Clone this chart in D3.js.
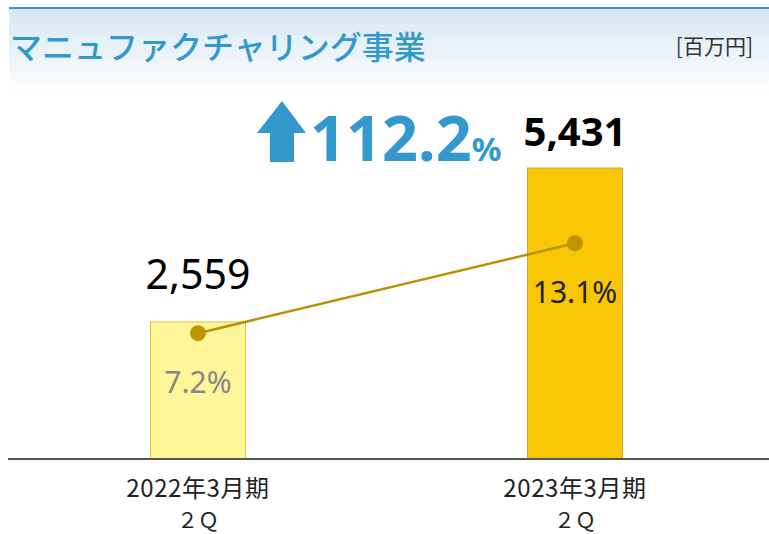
<!DOCTYPE html>
<html><head><meta charset="utf-8">
<script src="https://cdn.jsdelivr.net/npm/d3@7"></script>
<style>html,body{margin:0;padding:0;background:#fff;overflow:hidden}</style>
</head><body>
<svg id="chart" width="769" height="534"></svg>
<script>
const categories = ["2022年3月期", "2023年3月期"];
const categorySub = ["２Ｑ", "２Ｑ"];
const sales = [2559, 5431];
const salesLabels = ["2,559", "5,431"];
const margins = [7.2, 13.1];
const marginLabels = ["7.2%", "13.1%"];
const growthValue = "112.2";
const title = "マニュファクチャリング事業";
const unit = "[百万円]";

const svg = d3.select("#chart");
const defs = svg.append("defs");
const grad = defs.append("linearGradient").attr("id","hdr").attr("x1",0).attr("y1",0).attr("x2",0).attr("y2",1);
grad.append("stop").attr("offset","0%").attr("stop-color","#d6e7f2");
grad.append("stop").attr("offset","100%").attr("stop-color","#ffffff");

svg.append("rect").attr("x",9).attr("y",9).attr("width",760).attr("height",86).attr("fill","url(#hdr)");
svg.append("rect").attr("x",9).attr("y",7).attr("width",760).attr("height",2).attr("fill","#3399cc");

const cjk = "'Noto Sans CJK JP','Noto Sans',sans-serif";
const num = "'Noto Sans','DejaVu Sans',sans-serif";

svg.append("text").attr("x",10).attr("y",45).attr("dominant-baseline","central")
  .attr("font-family",cjk).attr("font-size",32).attr("font-weight",500).attr("fill","#3399cc").text(title);
svg.append("text").attr("x",753).attr("y",45).attr("dominant-baseline","central").attr("text-anchor","end")
  .attr("font-family",cjk).attr("font-size",21).attr("fill","#333").text(unit);

const x = d3.scalePoint().domain(categories).range([198, 575]);
const barW = 96;
const y = d3.scaleLinear().domain([0, 6000]).range([459, 459 - 6000*0.05358]);
const y2 = d3.scaleLinear().domain([0, 20]).range([443, 443 - 20*15.25]);

const fills = ["#fff599", "#f9c605"];
const strokes = ["#e3c447", "#c8a838"];

svg.selectAll("rect.bar").data(sales).join("rect").attr("class","bar")
  .attr("x",(d,i)=>x(categories[i]) - barW/2 + 0.5)
  .attr("y",d=>y(d))
  .attr("width",barW - 1)
  .attr("height",d=>y(0)-y(d))
  .attr("fill",(d,i)=>fills[i]).attr("stroke",(d,i)=>strokes[i]).attr("stroke-width",1);

// axis baseline
const axis = d3.axisBottom(x).tickSize(0).tickFormat("");
const ag = svg.append("g").attr("transform","translate(0,459)").call(axis);
ag.select(".domain").remove();
svg.append("line").attr("x1",8).attr("x2",769).attr("y1",459).attr("y2",459).attr("stroke","#555").attr("stroke-width",2);

// line
const line = d3.line().x((d,i)=>x(categories[i])).y(d=>y2(d));
svg.append("path").datum(margins).attr("d",line).attr("fill","none").attr("stroke","#b8900a").attr("stroke-width",2.5);
svg.selectAll("circle.pt").data(margins).join("circle").attr("class","pt")
  .attr("cx",(d,i)=>x(categories[i])).attr("cy",d=>y2(d)).attr("r",8).attr("fill","#c09400");

// margin labels
const mColors = ["#888888", "#222222"];
svg.selectAll("text.m").data(marginLabels).join("text").attr("class","m")
  .attr("x",(d,i)=>x(categories[i])).attr("y",(d,i)=>y2(margins[i]) + 60)
  .attr("text-anchor","middle").attr("font-family",num).attr("font-size",30)
  .attr("fill",(d,i)=>mColors[i]).text(d=>d);

// value labels
svg.selectAll("text.v").data(salesLabels).join("text").attr("class","v")
  .attr("x",(d,i)=>x(categories[i])).attr("y",(d,i)=>y(sales[i]) - (i===0?33:22))
  .attr("text-anchor","middle").attr("font-family",num)
  .attr("font-size",(d,i)=>i===0?41:40).attr("font-weight",(d,i)=>i===0?400:700)
  .attr("fill","#000").text(d=>d);

// category labels
categories.forEach((c,i)=>{
  svg.append("text").attr("text-anchor","middle").attr("font-family",cjk).attr("fill","#222")
    .attr("x",x(c)).attr("y",497).attr("font-size",24).attr("letter-spacing",0.6).text(c);
  svg.append("text").attr("text-anchor","middle").attr("font-family",cjk).attr("fill","#222")
    .attr("x",x(c)).attr("y",528).attr("font-size",21).text(categorySub[i]);
});

// growth arrow + text
const blue = "#3399cc";
const arrow = d3.path();
arrow.moveTo(282,101); arrow.lineTo(306,133); arrow.lineTo(294,133); arrow.lineTo(294,162);
arrow.lineTo(270,162); arrow.lineTo(270,133); arrow.lineTo(257,133); arrow.closePath();
svg.append("path").attr("d",arrow.toString()).attr("fill",blue);
const gt = svg.append("text").attr("x",310).attr("y",161).attr("font-family",num).attr("font-weight",700).attr("fill",blue);
gt.append("tspan").attr("font-size",63).text(growthValue);
gt.append("tspan").attr("font-size",33).text("%");
</script>
</body></html>
